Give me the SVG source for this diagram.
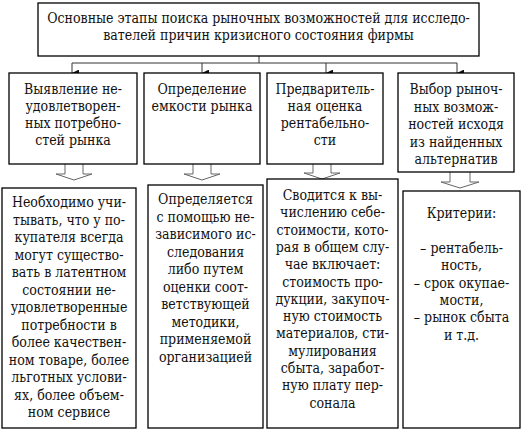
<svg xmlns="http://www.w3.org/2000/svg" width="522" height="432" viewBox="0 0 522 432">
<defs>
<style>
.box{fill:#fff;stroke:#000;stroke-width:1.3}
.t{font-family:"DejaVu Serif Condensed","DejaVu Serif",serif;font-stretch:condensed;font-size:14px;fill:#111;text-anchor:middle}
.ln{fill:none;stroke:#333;stroke-width:1}
.blk{fill:#fff;stroke:#666;stroke-width:1}
</style>
<marker id="ah" viewBox="0 0 8 8" refX="4" refY="8" markerWidth="7" markerHeight="7" markerUnits="userSpaceOnUse" orient="auto-start-reverse">
<path d="M0,0 L8,0 L4,8 Z" fill="#111"/>
</marker>
</defs>
<rect width="522" height="432" fill="#fff"/>

<g id="connectors">
<path class="ln" d="M259,56 V63 M72,63 H457"/>
<line class="ln" x1="72" y1="63" x2="72" y2="73" marker-end="url(#ah)"/>
<line class="ln" x1="202" y1="63" x2="202" y2="73" marker-end="url(#ah)"/>
<line class="ln" x1="326" y1="63" x2="326" y2="73" marker-end="url(#ah)"/>
<line class="ln" x1="457" y1="63" x2="457" y2="73" marker-end="url(#ah)"/>
<path class="blk" d="M65,164 V174 H56 L74,180 L92,174 H83 V164"/>
<path class="blk" d="M193,164 V174 H184 L202,180 L220,174 H211 V164"/>
<path class="blk" d="M313,164 V173 H304 L322,179 L340,173 H331 V164"/>
<path class="blk" d="M450,172 V182 H441 L460,188 L479,182 H470 V172"/>
</g>

<g id="title">
<rect class="box" x="38" y="3" width="441" height="53"/>
<text class="t" x="258.5" y="23">Основные этапы поиска рыночных возможностей для исследо-</text>
<text class="t" x="258.5" y="40">вателей причин кризисного состояния фирмы</text>
</g>

<g id="stage1">
<rect class="box" x="9" y="73" width="128" height="91"/>
<text class="t" x="73" y="94">Выявление не-</text>
<text class="t" x="73" y="111">удовлетворен-</text>
<text class="t" x="73" y="128">ных потребно-</text>
<text class="t" x="73" y="145">стей рынка</text>
</g>

<g id="stage2">
<rect class="box" x="144" y="73" width="116" height="91"/>
<text class="t" x="202" y="94">Определение</text>
<text class="t" x="202" y="111">емкости рынка</text>
</g>

<g id="stage3">
<rect class="box" x="267" y="73" width="116" height="91"/>
<text class="t" x="325" y="94">Предваритель-</text>
<text class="t" x="325" y="111">ная оценка</text>
<text class="t" x="325" y="128">рентабельно-</text>
<text class="t" x="325" y="145">сти</text>
</g>

<g id="stage4">
<rect class="box" x="398" y="73" width="116" height="99"/>
<text class="t" x="456" y="94">Выбор рыноч-</text>
<text class="t" x="456" y="111.5">ных возмож-</text>
<text class="t" x="456" y="129">ностей исходя</text>
<text class="t" x="456" y="146.5">из найденных</text>
<text class="t" x="456" y="164">альтернатив</text>
</g>

<g id="detail1">
<rect class="box" x="2" y="188" width="134" height="240"/>
<text class="t" x="69" y="207">Необходимо учи-</text>
<text class="t" x="69" y="224.5">тывать, что у по-</text>
<text class="t" x="69" y="242">купателя всегда</text>
<text class="t" x="69" y="259.5">могут существо-</text>
<text class="t" x="69" y="277">вать в латентном</text>
<text class="t" x="69" y="294.5">состоянии не-</text>
<text class="t" x="69" y="312">удовлетворенные</text>
<text class="t" x="69" y="329.5">потребности в</text>
<text class="t" x="69" y="347">более качествен-</text>
<text class="t" x="69" y="364.5">ном товаре, более</text>
<text class="t" x="69" y="382">льготных услови-</text>
<text class="t" x="69" y="399.5">ях, более объем-</text>
<text class="t" x="69" y="417">ном сервисе</text>
</g>

<g id="detail2">
<rect class="box" x="148" y="185" width="115" height="243"/>
<text class="t" x="205.5" y="204">Определяется</text>
<text class="t" x="205.5" y="221.5">с помощью не-</text>
<text class="t" x="205.5" y="239">зависимого ис-</text>
<text class="t" x="205.5" y="256.5">следования</text>
<text class="t" x="205.5" y="274">либо путем</text>
<text class="t" x="205.5" y="291.5">оценки соот-</text>
<text class="t" x="205.5" y="309">ветствующей</text>
<text class="t" x="205.5" y="326.5">методики,</text>
<text class="t" x="205.5" y="344">применяемой</text>
<text class="t" x="205.5" y="361.5">организацией</text>
</g>

<g id="detail3">
<rect class="box" x="267" y="179" width="131" height="249"/>
<text class="t" x="332.5" y="200">Сводится к вы-</text>
<text class="t" x="332.5" y="217.3">числению себе-</text>
<text class="t" x="332.5" y="234.6">стоимости, кото-</text>
<text class="t" x="332.5" y="251.9">рая в общем слу-</text>
<text class="t" x="332.5" y="269.2">чае включает:</text>
<text class="t" x="332.5" y="286.5">стоимость про-</text>
<text class="t" x="332.5" y="303.8">дукции, закупоч-</text>
<text class="t" x="332.5" y="321.1">ную стоимость</text>
<text class="t" x="332.5" y="338.4">материалов, сти-</text>
<text class="t" x="332.5" y="355.7">мулирования</text>
<text class="t" x="332.5" y="373">сбыта, заработ-</text>
<text class="t" x="332.5" y="390.3">ную плату пер-</text>
<text class="t" x="332.5" y="407.6">сонала</text>
</g>

<g id="detail4">
<rect class="box" x="403" y="191" width="117" height="237"/>
<text class="t" x="461.5" y="218">Критерии:</text>
<text class="t" x="461.5" y="253">– рентабель-</text>
<text class="t" x="461.5" y="270.3">ность,</text>
<text class="t" x="461.5" y="287.6">– срок окупае-</text>
<text class="t" x="461.5" y="305">мости,</text>
<text class="t" x="461.5" y="322.3">– рынок сбыта</text>
<text class="t" x="461.5" y="339.6">и т.д.</text>
</g>
</svg>
